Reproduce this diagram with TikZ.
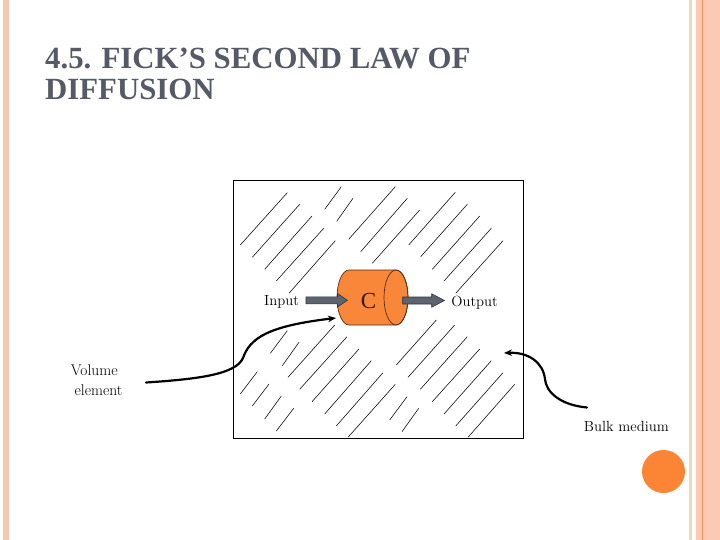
\documentclass[tikz,border=0pt]{standalone}
\usepackage{fontspec}
\newfontfamily\titlefont{Liberation Serif}
\usetikzlibrary{arrows.meta}
\definecolor{stripe}{HTML}{F7C6B1}
\definecolor{stripelight}{HTML}{F3D5C8}
\definecolor{stripedark}{HTML}{E39462}
\definecolor{stripemid}{HTML}{FCCAB3}
\definecolor{dotorange}{HTML}{FC8535}
\definecolor{cylorange}{HTML}{F8873A}
\definecolor{cyledge}{HTML}{5A2C12}
\definecolor{titlegray}{HTML}{555A66}
\definecolor{arrowgray}{HTML}{5D6470}
\definecolor{arrowedge}{HTML}{2F343C}
\tikzset{
  hatch/.style={line width=0.55pt, black},
  label/.style={inner sep=0pt, font=\fontsize{14.7}{17}\selectfont},
  titletext/.style={inner sep=0pt, text=titlegray, font=\titlefont\bfseries\fontsize{30.8}{31}\selectfont},
  blockarrow/.style={fill=arrowgray, draw=arrowedge, line width=0.6pt},
  curvearrow/.style={line width=2.2pt, line cap=round, -{Stealth[length=8pt,width=6.5pt]}},
}
\begin{document}
\begin{tikzpicture}[x=1pt,y=-1pt]
\useasboundingbox (0,0) rectangle (720,540);
\fill[white] (0,0) rectangle (720,540);
% side stripes
\fill[stripe] (3,0) rectangle (9,540);
\fill[stripelight] (689,0) rectangle (692,540);
\fill[stripemid] (696,0) rectangle (720,540);
\fill[stripedark] (701.5,0) rectangle (703,540);
% orange dot
\fill[dotorange] (663.5,471.5) circle[radius=21.5];
% title
\node[titletext, anchor=base west] (title1) at (45,69) {4.5. FICK’S SECOND LAW OF};
\node[titletext, anchor=base west] (title2) at (45,100) {DIFFUSION};
% volume box
\draw[line width=0.8pt] (233,180) rectangle (523,438);
% hatching
\foreach \ax/\ay/\bx/\by in {
 240.3/245/287.3/192.7, 252.3/257.3/299.7/204.3, 264.7/269.3/312/216,
 276.3/281/323.7/228.3, 289/293.3/335.3/240.7,
 324.7/209.3/341.3/186.7, 336.7/221.3/353/198.3,
 348.7/239.3/395.3/186.7, 360.7/251.7/407.3/198.3, 372.3/263.3/419.7/210,
 408.7/245/455.3/192.3, 420.7/256.7/467.3/204.3, 432.3/269.3/479.7/216,
 444/281/491.3/228.3, 455.7/293.3/503/240.7,
 270.3/353.3/287.3/330.7, 282.3/365.7/299/342.3,
 288/377.3/334.7/325, 299.7/389.3/347/336.7, 312/401.7/359/349,
 324.7/414/371.3/360.7, 336.3/426/383/372.7, 348/437.3/395.3/384.3,
 240.3/394/257.3/371.7, 252.3/406/269/384, 264.7/419/281.3/396, 276.3/431/293.7/408.3,
 396.3/365/436.3/320, 408/377.3/454.7/325, 420.3/389.3/467.3/336.7,
 432.3/401.7/479.7/349, 444/414/491.3/360.7, 455.7/426/503/372.7, 468/437.3/514.7/384.3,
 389.7/420/407/396.7, 402/431.7/418.7/408.3}
 \draw[hatch] (\ax,\ay) -- (\bx,\by);
% cylinder
\filldraw[fill=cylorange, draw=cyledge, line width=0.7pt]
  (349,270) -- (396,270) arc[start angle=-90, end angle=90, x radius=12, y radius=27.5]
  -- (349,325) arc[start angle=90, end angle=270, x radius=12, y radius=27.5] -- cycle;
\draw[cyledge, line width=0.7pt] (396,297.5) ellipse[x radius=12, y radius=27.5];
\node[inner sep=0pt, font=\titlefont\fontsize{23}{25}\selectfont, text={rgb,255:red,55;green,25;blue,10}] (cyl) at (368.5,301) {C};
% block arrows
\filldraw[blockarrow] (306,296.8) -- (337.5,296.8) -- (337.5,293.5) -- (347.3,300.3)
  -- (337.5,307) -- (337.5,303.8) -- (306,303.8) -- cycle;
\filldraw[blockarrow] (402.7,297) -- (431.7,297) -- (431.7,293.8) -- (444.5,300.5)
  -- (431.7,307.2) -- (431.7,304) -- (402.7,304) -- cycle;
% labels
\node[label, anchor=base] (input) at (281.5,305.7) {Input};
\node[label, anchor=base] (output) at (474.5,306) {Output};
\node[label, anchor=base, font=\fontsize{15.5}{18}\selectfont] (vol1) at (94.2,375.5) {Volume};
\node[label, anchor=base, font=\fontsize{15.5}{18}\selectfont] (vol2) at (98.5,395) {element};
\node[label, anchor=base] (bulk) at (626.3,431) {Bulk medium};
% curved pointers
\coordinate (volstart) at (146,382.5);
\coordinate (voltip) at (336,318);
\coordinate (bulkstart) at (587,407.5);
\coordinate (bulktip) at (504,353);
\draw[curvearrow] (volstart) .. controls (200,379) and (236,374) .. (243,358)
  .. controls (250,338) and (268,326) .. (voltip);
\draw[curvearrow] (bulkstart) .. controls (560,405) and (546,392) .. (545,379)
  .. controls (543,362) and (528,352) .. (bulktip);
\end{tikzpicture}
\end{document}
